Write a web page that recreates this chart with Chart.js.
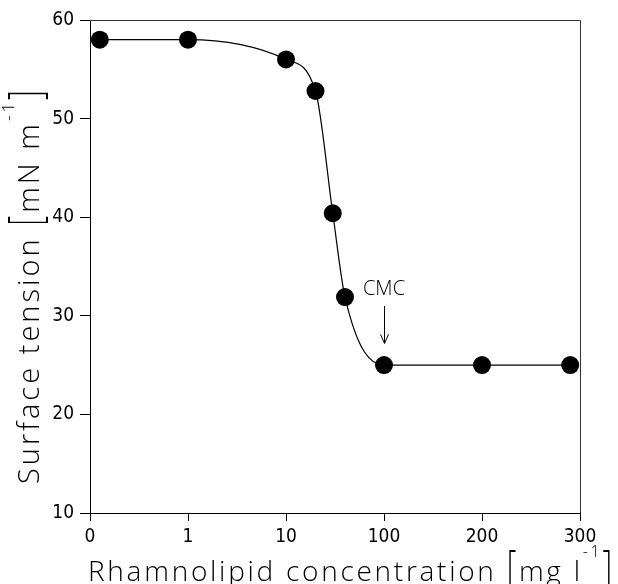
<!DOCTYPE html>
<html>
<head>
<meta charset="utf-8">
<script src="https://cdn.jsdelivr.net/npm/chart.js@4.4.1/dist/chart.umd.min.js"></script>
<style>
  html, body { margin: 0; padding: 0; background: #fff; }
  #wrap { width: 618px; height: 584px; position: relative; }
</style>
</head>
<body>
<div id="wrap"><canvas id="c" width="618" height="584"></canvas></div>
<script>
// ---- data ----
const concentrations = [0.1, 1, 10, 20, 30, 40, 100, 200, 290];   // mg l-1
const surfaceTension = [58, 58, 56, 52.8, 40.4, 31.9, 25, 25, 25]; // mN m-1
const xTickLabels = ['0', '1', '10', '100', '200', '300'];
const yTickValues = [10, 20, 30, 40, 50, 60];
const cmcConcentration = 100;
const cmcArrowFrom = 31.0;   // tension value where arrow starts
const cmcArrowTo = 27.2;     // tension value at arrow tip
const cmcLabelAt = 32.1;     // baseline of the label

// broken axis: 0-1 linear, 1-100 logarithmic, 100-300 linear
function axisPos(c) {
  if (c <= 1) return c;
  if (c <= 100) return 1 + Math.log10(c);
  return 3 + (c - 100) / 100;
}

const points = concentrations.map((c, i) => ({ x: axisPos(c), y: surfaceTension[i] }));

const TITLE_FONT = '"Open Sans", "Roboto", "DejaVu Sans", sans-serif';
const TICK_FONT = '"Liberation Sans Narrow", "DejaVu Sans Condensed", "Liberation Sans", sans-serif';

function drawRich(ctx, segs, targetW) {
  let natural = 0, n = 0;
  segs.forEach(s => {
    ctx.font = '300 ' + s.size + 'px ' + TITLE_FONT;
    for (const ch of s.t) { natural += ctx.measureText(ch).width; n++; }
  });
  const ls = (targetW - natural) / (n - 1);
  let x = 0;
  segs.forEach(s => {
    ctx.font = '300 ' + s.size + 'px ' + TITLE_FONT;
    for (const ch of s.t) {
      ctx.save();
      ctx.translate(x, s.dy || 0);
      ctx.scale(1, s.sy || 1);
      ctx.fillText(ch, 0, 0);
      ctx.restore();
      x += ctx.measureText(ch).width + ls;
    }
  });
}

const decor = {
  id: 'decor',
  afterDraw(chart) {
    const { ctx, chartArea: a, scales } = chart;
    const xs = scales.x, ys = scales.y;
    ctx.save();
    ctx.strokeStyle = '#333';
    ctx.lineWidth = 1;
    ctx.beginPath();
    ctx.moveTo(a.left, a.top + 0.5);
    ctx.lineTo(a.right + 0.5, a.top + 0.5);
    ctx.lineTo(a.right + 0.5, a.bottom);
    ctx.stroke();

    ctx.fillStyle = '#000';
    ctx.textBaseline = 'alphabetic';
    ctx.textAlign = 'left';

    // x title
    ctx.save();
    ctx.translate(88, 581);
    drawRich(ctx, [
      { t: 'Rhamnolipid concentration ', size: 28 },
      { t: '[', size: 30, sy: 1.5, dy: 1 },
      { t: 'mg l', size: 28 },
      { t: '-1', size: 16, dy: -24 },
      { t: ']', size: 30, sy: 1.5, dy: 1 }
    ], 524);
    ctx.restore();

    // y title
    ctx.save();
    ctx.translate(39, 484);
    ctx.rotate(-Math.PI / 2);
    drawRich(ctx, [
      { t: 'Surface tension ', size: 29 },
      { t: '[', size: 31, sy: 1.5, dy: 2 },
      { t: 'mN m', size: 29 },
      { t: '-1', size: 17, dy: -25 },
      { t: ']', size: 31, sy: 1.5, dy: 2 }
    ], 394);
    ctx.restore();

    // CMC annotation
    const cx = xs.getPixelForValue(axisPos(cmcConcentration));
    ctx.font = '300 20px ' + TITLE_FONT;
    ctx.textAlign = 'center';
    ctx.fillText('CMC', cx, ys.getPixelForValue(cmcLabelAt));
    const y1 = ys.getPixelForValue(cmcArrowFrom);
    const y2 = ys.getPixelForValue(cmcArrowTo);
    ctx.strokeStyle = '#000';
    ctx.lineWidth = 1;
    ctx.beginPath();
    ctx.moveTo(cx + 0.5, y1);
    ctx.lineTo(cx + 0.5, y2);
    ctx.moveTo(cx - 3.5, y2 - 9);
    ctx.lineTo(cx + 0.5, y2);
    ctx.lineTo(cx + 4.5, y2 - 9);
    ctx.stroke();
    ctx.restore();
  }
};

new Chart(document.getElementById('c'), {
  type: 'scatter',
  data: {
    datasets: [{
      data: points,
      showLine: true,
      cubicInterpolationMode: 'monotone',
      borderColor: '#000',
      borderWidth: 1.2,
      pointRadius: 9,
      pointHoverRadius: 9,
      pointBackgroundColor: '#000',
      pointBorderColor: '#000',
      pointBorderWidth: 0,
      clip: false
    }]
  },
  options: {
    responsive: false,
    animation: false,
    devicePixelRatio: 1,
    layout: { padding: { left: 0, right: 38, top: 20, bottom: 0 } },
    plugins: { legend: { display: false }, tooltip: { enabled: false } },
    scales: {
      x: {
        type: 'linear',
        min: 0, max: xTickLabels.length - 1,
        afterBuildTicks(scale) { scale.ticks = xTickLabels.map((_, i) => ({ value: i })); },
        afterFit(scale) { scale.height = 71; },
        ticks: {
          callback: v => xTickLabels[v],
          color: '#000',
          font: { family: TICK_FONT, size: 19 },
          padding: 5,
          maxRotation: 0,
          autoSkip: false
        },
        grid: { drawOnChartArea: false, drawTicks: true, tickLength: 8, color: '#000' },
        border: { color: '#000', width: 1 },
        title: { display: false }
      },
      y: {
        type: 'linear',
        min: yTickValues[0], max: yTickValues[yTickValues.length - 1],
        afterBuildTicks(scale) { scale.ticks = yTickValues.map(v => ({ value: v })); },
        afterFit(scale) { scale.width = 90; },
        ticks: {
          color: '#000',
          font: { family: TICK_FONT, size: 19 },
          padding: 6
        },
        grid: { drawOnChartArea: false, drawTicks: true, tickLength: 10, color: '#000' },
        border: { color: '#000', width: 1 },
        title: { display: false }
      }
    }
  },
  plugins: [decor]
});
</script>
</body>
</html>
